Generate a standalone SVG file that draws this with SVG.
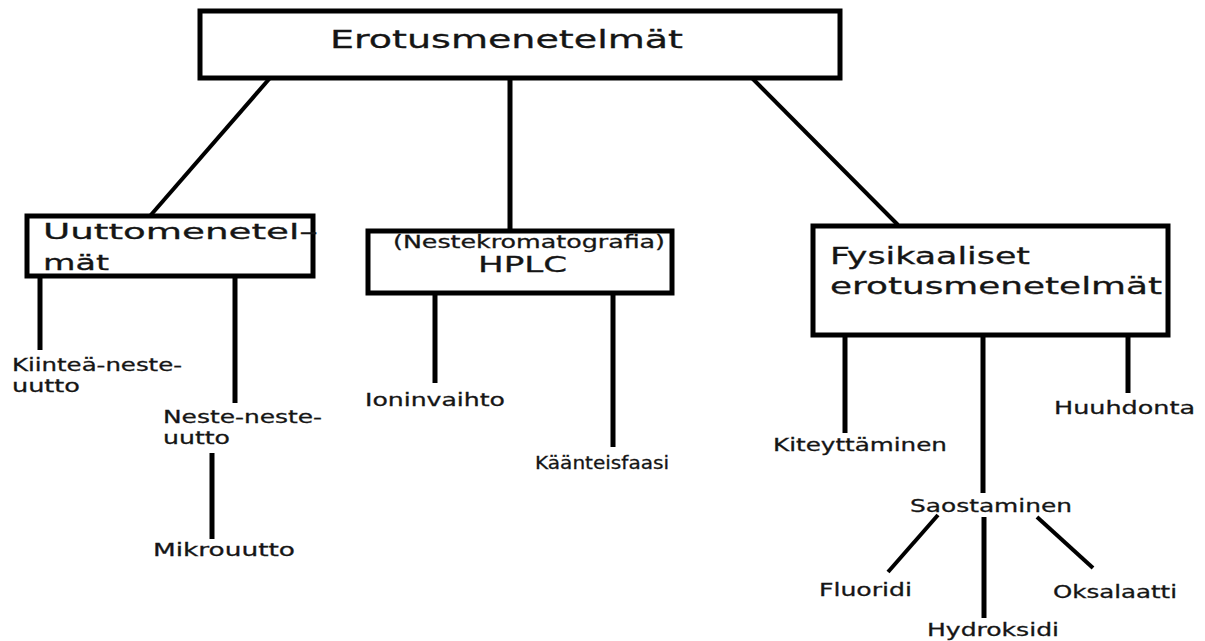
<svg xmlns="http://www.w3.org/2000/svg" width="1205" height="641" viewBox="0 0 1205 641">
<style>
.box{fill:#fff;stroke:#000;stroke-width:5}
.ln{stroke:#000;stroke-width:5;fill:none}
.dg{stroke:#000;stroke-width:4;fill:none}
text{font-family:"DejaVu Sans","Liberation Sans",sans-serif;fill:#151515;stroke:#151515;stroke-width:0.3}
.big{font-size:25px}
.mid{font-size:22px}
.fy{font-size:23px}
.sm{font-size:18px}
</style>
<rect width="1205" height="641" fill="#fff"/>
<g id="connectors">
<line class="dg" x1="270" y1="78" x2="150" y2="216"/>
<line class="ln" x1="510" y1="78" x2="510" y2="231"/>
<line class="dg" x1="752" y1="78" x2="898" y2="225"/>
<line class="ln" x1="40" y1="276" x2="40" y2="350"/>
<line class="ln" x1="235" y1="276" x2="235" y2="403"/>
<line class="ln" x1="212" y1="453" x2="212" y2="539"/>
<line class="ln" x1="435" y1="293" x2="435" y2="383"/>
<line class="ln" x1="613" y1="293" x2="613" y2="447"/>
<line class="ln" x1="845" y1="335" x2="845" y2="433"/>
<line class="ln" x1="983" y1="335" x2="983" y2="493"/>
<line class="ln" x1="1128" y1="335" x2="1128" y2="393"/>
<line class="dg" x1="938" y1="515" x2="888" y2="572"/>
<line class="ln" x1="984" y1="517" x2="984" y2="618"/>
<line class="dg" x1="1037" y1="517" x2="1093" y2="568"/>
</g>
<g id="n-root">
<rect class="box" x="200" y="11" width="640" height="67"/>
<text class="big" x="330" y="48" textLength="353" lengthAdjust="spacingAndGlyphs">Erotusmenetelmät</text>
</g>
<g id="n-uutto">
<rect class="box" x="27" y="216" width="286" height="60"/>
<text class="mid" x="43" y="239" textLength="275" lengthAdjust="spacingAndGlyphs">Uuttomenetel–</text>
<text class="mid" x="43" y="270" textLength="66" lengthAdjust="spacingAndGlyphs">mät</text>
</g>
<g id="n-hplc">
<rect class="box" x="368" y="231" width="304" height="62"/>
<text class="sm" x="393" y="248" textLength="272" lengthAdjust="spacingAndGlyphs">(Nestekromatografia)</text>
<text class="mid" x="478" y="272" textLength="89" lengthAdjust="spacingAndGlyphs">HPLC</text>
</g>
<g id="n-fys">
<rect class="box" x="813" y="226" width="355" height="109"/>
<text class="fy" x="830" y="264" textLength="200" lengthAdjust="spacingAndGlyphs">Fysikaaliset</text>
<text class="fy" x="830" y="294" textLength="332" lengthAdjust="spacingAndGlyphs">erotusmenetelmät</text>
</g>
<g id="n-kiintea">
<text class="sm" x="12" y="371" textLength="170" lengthAdjust="spacingAndGlyphs">Kiinteä-neste-</text>
<text class="sm" x="12" y="392" textLength="68" lengthAdjust="spacingAndGlyphs">uutto</text>
</g>
<g id="n-neste">
<text class="sm" x="163" y="423" textLength="159" lengthAdjust="spacingAndGlyphs">Neste-neste-</text>
<text class="sm" x="163" y="444" textLength="67" lengthAdjust="spacingAndGlyphs">uutto</text>
</g>
<g id="n-mikro">
<text class="sm" x="153" y="556" textLength="142" lengthAdjust="spacingAndGlyphs">Mikrouutto</text>
</g>
<g id="n-ionin">
<text class="sm" x="365" y="406" textLength="140" lengthAdjust="spacingAndGlyphs">Ioninvaihto</text>
</g>
<g id="n-kaant">
<text class="sm" x="535" y="469" textLength="134" lengthAdjust="spacingAndGlyphs">Käänteisfaasi</text>
</g>
<g id="n-kitey">
<text class="sm" x="773" y="451" textLength="174" lengthAdjust="spacingAndGlyphs">Kiteyttäminen</text>
</g>
<g id="n-huuh">
<text class="sm" x="1054" y="414" textLength="141" lengthAdjust="spacingAndGlyphs">Huuhdonta</text>
</g>
<g id="n-saos">
<text class="sm" x="910" y="512" textLength="162" lengthAdjust="spacingAndGlyphs">Saostaminen</text>
</g>
<g id="n-fluor">
<text class="sm" x="819" y="596" textLength="93" lengthAdjust="spacingAndGlyphs">Fluoridi</text>
</g>
<g id="n-oksa">
<text class="sm" x="1053" y="598" textLength="124" lengthAdjust="spacingAndGlyphs">Oksalaatti</text>
</g>
<g id="n-hydro">
<text class="sm" x="927" y="636" textLength="132" lengthAdjust="spacingAndGlyphs">Hydroksidi</text>
</g>
</svg>
